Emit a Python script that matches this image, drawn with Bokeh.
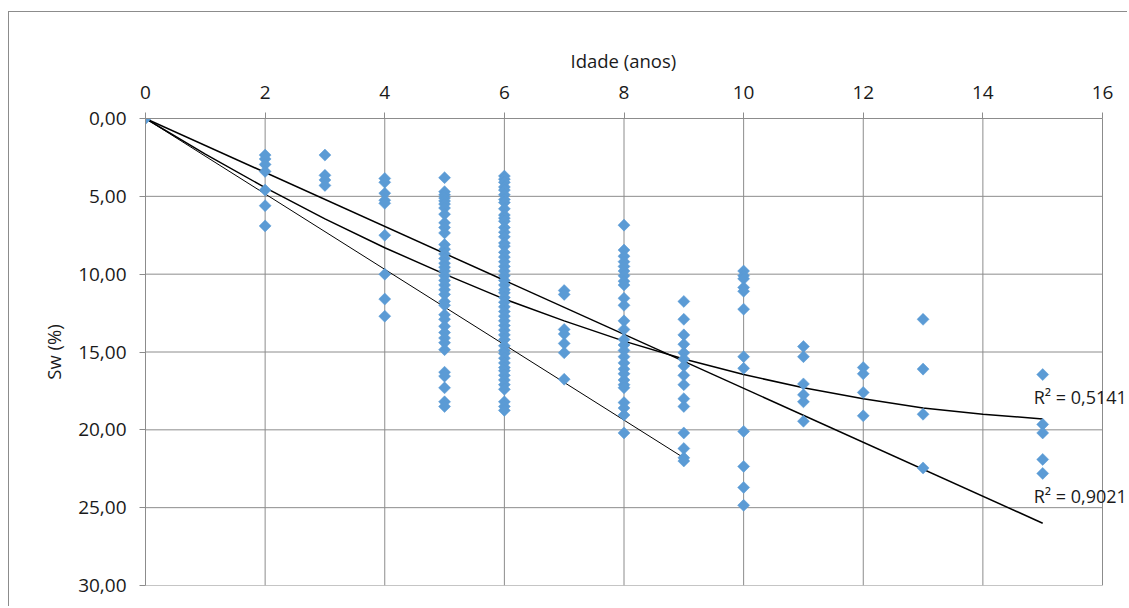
import math
from bokeh.plotting import figure
from bokeh.models import Range1d, FixedTicker, CustomJSTickFormatter, Label, ColumnDataSource
from bokeh.embed import file_html
from bokeh.resources import INLINE

# ---- data (Sw % by age in years) ----
ages = [0, 2, 3, 4, 5, 6, 7, 8, 9, 10, 11, 12, 13, 15]
sw_age0 = [0.0]
sw_age2 = [2.35, 2.6, 2.95, 3.4, 4.6, 5.6, 6.9]
sw_age3 = [2.35, 3.65, 3.95, 4.3]
sw_age4 = [3.85, 4.1, 4.8, 5.25, 5.45, 7.5, 10.0, 11.6, 12.7]
sw_age5 = [3.8, 4.7, 4.9, 5.1, 5.3, 5.5, 5.75, 6.15, 6.7, 7.0, 7.35, 8.1, 8.4, 8.7,
           9.0, 9.3, 9.55, 9.8, 10.1, 10.4, 10.7, 11.0, 11.3, 11.75, 12.0, 12.6, 12.9,
           13.35, 13.75, 14.1, 14.4, 14.85, 16.3, 16.55, 17.3, 18.2, 18.5]
sw_age6 = [3.7, 3.9, 4.1, 4.4, 4.6, 4.9, 5.2, 5.4, 5.8, 6.2, 6.4, 6.6, 7.0, 7.3, 7.6,
           8.0, 8.2, 8.6, 8.9, 9.2, 9.5, 9.8, 10.1, 10.4, 10.7, 11.0, 11.2, 11.5, 11.8,
           12.1, 12.4, 12.7, 13.0, 13.3, 13.6, 13.9, 14.2, 14.6, 14.9, 15.1, 15.4, 15.7,
           16.0, 16.2, 16.5, 16.8, 17.1, 17.4, 18.2, 18.5, 18.75]
sw_age7 = [11.05, 11.3, 13.55, 13.85, 14.45, 15.05, 16.75]
sw_age8 = [6.85, 8.45, 8.85, 9.2, 9.5, 9.8, 10.1, 10.45, 10.7, 11.55, 12.0, 13.0, 13.55,
           14.2, 14.55, 14.9, 15.3, 15.7, 16.1, 16.4, 16.8, 17.1, 17.3, 18.25, 18.6,
           19.05, 20.2]
sw_age9 = [11.75, 12.9, 13.9, 14.5, 15.05, 15.45, 15.9, 16.5, 17.1, 18.0, 18.5, 20.2,
           21.2, 21.8, 22.0]
sw_age10 = [9.8, 10.1, 10.3, 10.85, 11.1, 12.25, 15.3, 16.05, 20.1, 22.35, 23.7, 24.85]
sw_age11 = [14.65, 15.3, 17.05, 17.75, 18.2, 19.45]
sw_age12 = [16.0, 16.4, 17.6, 19.1]
sw_age13 = [12.9, 16.1, 19.0, 22.45]
sw_age15 = [16.45, 19.65, 20.2, 21.9, 22.8]

# trend lines
trend_lin_a_x = [0, 9]
trend_lin_a_y = [0.0, 21.8]
trend_lin_b_x = [0, 15]
trend_lin_b_y = [0.0, 26.0]
trend_poly_x = [0, 1, 2, 3, 4, 5, 6, 7, 8, 9, 10, 11, 12, 13, 14, 15]
trend_poly_y = [0.0, 2.29, 4.44, 6.45, 8.30, 10.0, 11.6, 13.0, 14.3, 15.45, 16.45,
                17.3, 18.0, 18.6, 19.0, 19.3]
r2_labels = ["R\u00b2 = 0,5141", "R\u00b2 = 0,9021"]
x_title = "Idade (anos)"
y_title = "Sw (%)"

x_ticks = [0, 2, 4, 6, 8, 10, 12, 14, 16]
y_ticks = [0, 5, 10, 15, 20, 25, 30]

columns = [sw_age0, sw_age2, sw_age3, sw_age4, sw_age5, sw_age6, sw_age7, sw_age8,
           sw_age9, sw_age10, sw_age11, sw_age12, sw_age13, sw_age15]
xs, ys = [], []
for a, col in zip(ages, columns):
    xs += [a] * len(col)
    ys += col
src = ColumnDataSource(dict(x=xs, y=ys))

FONT = "Open Sans"
GRID = "#8c8c8c"
TXT = "#1a1a1a"

# layout: the plotted 0..16 span is 957 px wide; the frame runs on to the page edge
W, H = 1127, 606
BL, BT, BB = 145, 118, 21
SPAN_PX = 957
x_end = x_ticks[-1] * (W - BL) / SPAN_PX
TITLE_LEFT_PX = 425   # title text starts this far right of the frame's left edge

p = figure(width=W, height=H, output_backend="svg", toolbar_location=None,
           x_range=Range1d(0, x_end), y_range=Range1d(y_ticks[-1], 0), x_axis_location="above",
           min_border_left=BL, min_border_top=BT, min_border_right=0, min_border_bottom=BB,
           styles={"box-shadow": "inset 8px 11px 0 0 #ffffff, inset 9px 12px 0 0 #8c8c8c",
                   "background-color": "#ffffff"})
p.background_fill_color = "white"
p.border_fill_color = None
p.outline_line_color = None
p.xgrid.visible = False
p.ygrid.visible = False

p.xaxis.ticker = FixedTicker(ticks=x_ticks)
p.yaxis.ticker = FixedTicker(ticks=y_ticks)
p.xaxis.bounds = (x_ticks[0], x_ticks[-1])
p.yaxis.formatter = CustomJSTickFormatter(code="return tick.toFixed(2).replace('.', ',');")

for ax in (p.xaxis, p.yaxis):
    ax.axis_line_color = GRID
    ax.major_tick_line_color = GRID
    ax.major_tick_out = 6
    ax.major_tick_in = 0
    ax.minor_tick_line_color = None
    ax.major_label_text_font = FONT
    ax.major_label_text_font_size = "19px"
    ax.major_label_text_color = TXT
    ax.axis_label_text_font = FONT
    ax.axis_label_text_font_size = "18.5px"
    ax.axis_label_text_font_style = "normal"
    ax.axis_label_text_color = TXT
p.xaxis.major_label_standoff = 14
p.yaxis.major_label_standoff = 13

# y title as the axis label, x title as the plot title placed over the 0..16 span
p.yaxis.axis_label = y_title
p.yaxis.axis_label_standoff = 9
p.title.text = x_title
p.title.align = "left"
p.title.offset = TITLE_LEFT_PX
p.title.text_font = FONT
p.title.text_font_size = "18.5px"
p.title.text_font_style = "normal"
p.title.text_color = TXT
p.title.standoff = 19

# grid lines (drawn as segments so they stop at x = 16)
p.segment(x0=x_ticks, y0=[y_ticks[0]] * len(x_ticks), x1=x_ticks, y1=[y_ticks[-1]] * len(x_ticks),
          line_color=GRID, line_width=1)
p.segment(x0=[x_ticks[0]] * len(y_ticks), y0=y_ticks, x1=[x_ticks[-1]] * len(y_ticks), y1=y_ticks,
          line_color=GRID, line_width=1)

# trend lines
p.line(trend_lin_a_x, trend_lin_a_y, line_color="black", line_width=1)
p.line(trend_lin_b_x, trend_lin_b_y, line_color="black", line_width=1.5)
p.line(trend_poly_x, trend_poly_y, line_color="black", line_width=1.5)

# points (diamonds)
p.scatter("x", "y", source=src, marker="square", angle=math.pi / 4, size=8.5,
          fill_color="#5b9bd5", line_color="#5b9bd5", line_width=0.5)

for txt, ly in zip(r2_labels, [17.92, 24.28]):
    p.add_layout(Label(x=14.85, y=ly, text=txt, text_font=FONT, text_font_size="18px",
                       text_color=TXT, text_baseline="middle"))

open("out.html", "w").write(file_html(p, INLINE))
